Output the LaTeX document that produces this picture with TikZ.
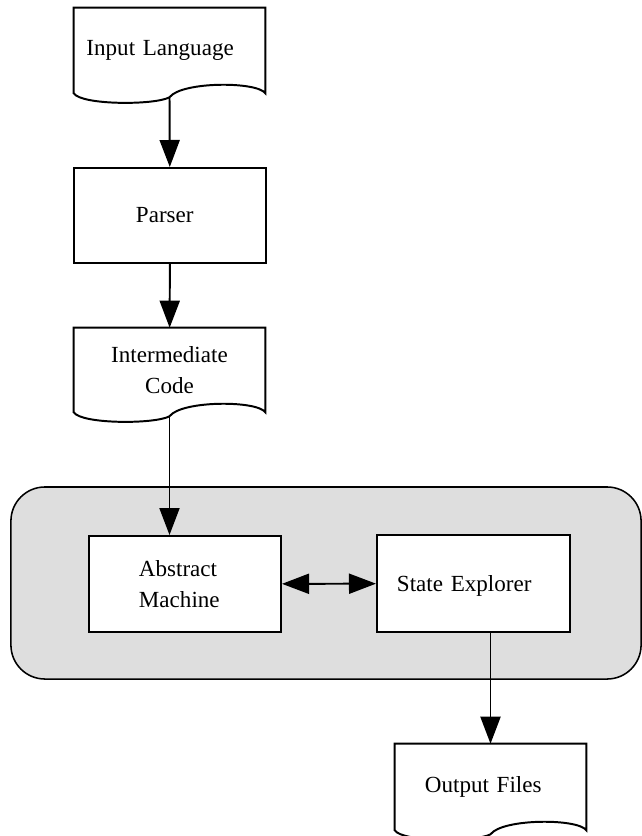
\documentclass[tikz,border=0pt]{standalone}
\usepackage{fontspec}
\setmainfont{Liberation Serif}
\usetikzlibrary{positioning, arrows.meta, calc}

% document symbol: straight top and sides, wavy bottom
\newcommand{\docoutline}[1]{%
  \draw[docline] (#1.south west) -- (#1.north west) -- (#1.north east) -- (#1.south east)
    .. controls ($(#1.south east)+(-8,-12)$) and ($(#1.south)+(12,-12)$) .. ($(#1.south)+(0,4)$)
    .. controls ($(#1.south)+(-15,12)$) and ($(#1.south west)+(8,12)$) .. (#1.south west) -- cycle;
  \coordinate (#1-tail) at ($(#1.south)+(0,4)$);}

\begin{document}
\begin{tikzpicture}[
  x=0.025cm, y=-0.025cm,
  font=\fontsize{16.4}{22}\selectfont,
  box/.style={draw, fill=white, line width=1.4pt, minimum width=4.8cm, minimum height=2.4cm,
    align=left, inner sep=0pt},
  doc/.style={minimum width=4.775cm, minimum height=2.125cm, align=center, inner sep=0pt},
  docline/.style={line width=1.4pt},
  shadebox/.style={draw, fill=black!13, line width=1.1pt, rounded corners=0.85cm,
    minimum width=15.75cm, minimum height=4.8cm},
  edge/.style={-{Triangle[length=0.675cm, width=0.5cm]}, line width=1.4pt},
  twoway/.style={{Triangle[length=0.675cm, width=0.5cm]}-{Triangle[length=0.675cm, width=0.5cm]},
    line width=1.4pt}
]
\useasboundingbox (0,0) rectangle (642,836);

% the machine part, shaded
\node[shadebox] (engine) at (326,583) {};

% input side
\node[doc, text width=4.15cm, align=left] (input) at (169.5,50.5) {Input Language};
\docoutline{input}
\node[box, minimum height=2.375cm, text width=1.7cm] (parser) at (170,215.5) {Parser};
\node[doc, minimum height=2.1cm] (code) at (169.5,370) {Intermediate\\Code};
\docoutline{code}

% inside the machine
\node[box, text width=2.3cm] (abstract) at (185,584) {Abstract\\Machine};
\node[box, minimum width=4.825cm, minimum height=2.425cm, text width=3.825cm, text depth=0pt]
  (explorer) at (473.5,583.5) {State Explorer};

% output
\node[doc, minimum height=2.15cm, text width=3.275cm, align=left] (output) at (490.5,787)
  {Output Files};
\docoutline{output}

% connectors
\draw[edge] (input-tail) -- (parser);
\draw[edge] (parser) -- (code);
\draw[edge] (code-tail) -- (code-tail |- abstract.north);
\draw[twoway] (abstract) -- (explorer);
\draw[edge] (explorer.south -| output.north) -- (output.north);

\end{tikzpicture}
\end{document}
